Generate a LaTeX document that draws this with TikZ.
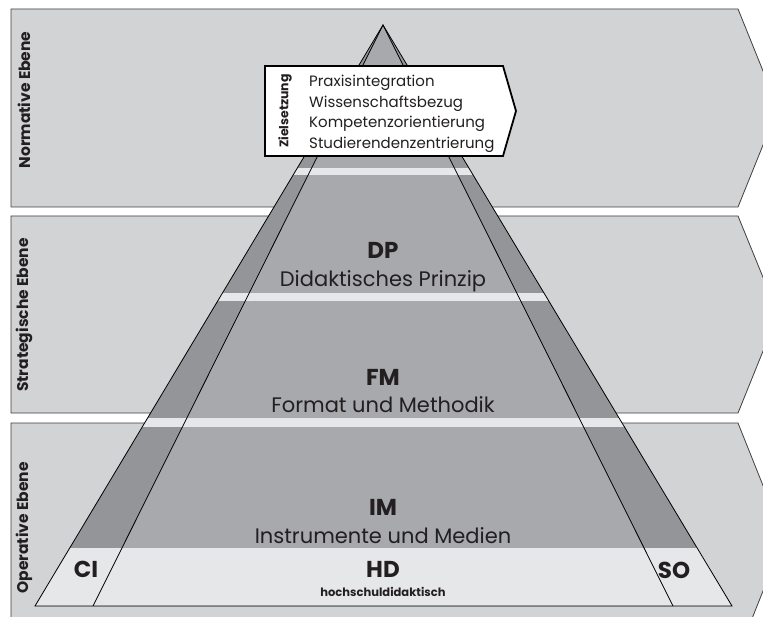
\documentclass[tikz,border=0pt]{standalone}
\usepackage{fontspec}
\setmainfont{Poppins}
\usetikzlibrary{positioning}

\definecolor{bandgray}{HTML}{D1D3D4}
\definecolor{midgray}{HTML}{A7A9AC}
\definecolor{sidegray}{HTML}{939598}
\definecolor{palegray}{HTML}{E6E7E8}
\definecolor{inkgray}{HTML}{231F20}

\begin{document}
\begin{tikzpicture}[x=1pt,y=-1pt,
    band/.style={draw=black!75, fill=bandgray, line width=0.8pt},
    level/.style={font=\bfseries\fontsize{15.5}{15.5}\selectfont, rotate=90, text=inkgray},
    abbr/.style={font=\bfseries\fontsize{23}{23}\selectfont, text=inkgray, anchor=base},
    full/.style={font=\fontsize{21}{21}\selectfont, text=inkgray, anchor=base},
    edge/.style={line width=0.8pt, draw=black}]
  \clip (0,0) rectangle (763,617);
  \fill[white] (0,0) rectangle (763,617);

  % Ebenen
  \draw[band] (11,9) -- (738,9) -- (778,108) -- (738,207) -- (11,207) -- cycle;
  \draw[band] (11,216) -- (738,216) -- (778,314) -- (738,413) -- (11,413) -- cycle;
  \draw[band] (11,423) -- (738,423) -- (784,538) -- (738,654) -- (11,654) -- cycle;
  \node[level] (norm) at (24,100) {Normative Ebene};
  \node[level] (strat) at (24,315) {Strategische Ebene};
  \node[level] (oper) at (24,528) {Operative Ebene};

  % Pyramide
  \coordinate (apex) at (383,25);
  \coordinate (bl) at (35,606);
  \coordinate (br) at (732,606);
  \coordinate (il) at (93,606);
  \coordinate (ir) at (673,606);
  \fill[sidegray] (apex) -- (bl) -- (br) -- cycle;
  \fill[midgray] (apex) -- (il) -- (ir) -- cycle;
  \begin{scope}
    \clip (apex) -- (bl) -- (br) -- cycle;
    \fill[palegray] (0,168) rectangle (763,175);
    \fill[palegray] (0,293) rectangle (763,301);
    \fill[palegray] (0,418) rectangle (763,427);
    \fill[palegray] (0,548) rectangle (763,606);
  \end{scope}
  \draw[edge] (apex) -- (bl) -- (br) -- cycle;
  \draw[edge] (il) -- (apex) -- (ir);

  \node[abbr] (dp) at (383,259) {DP};
  \node[full] (dpt) at (383,287) {Didaktisches Prinzip};
  \node[abbr] (fm) at (383,385) {FM};
  \node[full] (fmt) at (383,413) {Format und Methodik};
  \node[abbr] (im) at (383,515) {IM};
  \node[full] (imt) at (383,543) {Instrumente und Medien};
  \node[abbr] (hd) at (383,577) {HD};
  \node[font=\bfseries\fontsize{11.5}{11.5}\selectfont, text=inkgray, anchor=base] (hdt) at (383,596) {hochschuldidaktisch};
  \node[abbr] (ci) at (86,577) {CI};
  \node[abbr] (so) at (674,578) {SO};

  % Zielsetzung
  \draw[line width=1.8pt, fill=white] (265,66) -- (503,66) -- (516,111) -- (503,156) -- (265,156) -- cycle;
  \node[font=\bfseries\fontsize{12.5}{12.5}\selectfont, rotate=90, text=inkgray] (ziel) at (285,111) {Zielsetzung};
  \node[font=\fontsize{15}{20.5}\selectfont, text=inkgray, align=left, anchor=north west, inner sep=0pt] (ziele) at (309,75)
    {Praxisintegration\\Wissenschaftsbezug\\Kompetenzorientierung\\Studierendenzentrierung};
\end{tikzpicture}
\end{document}
